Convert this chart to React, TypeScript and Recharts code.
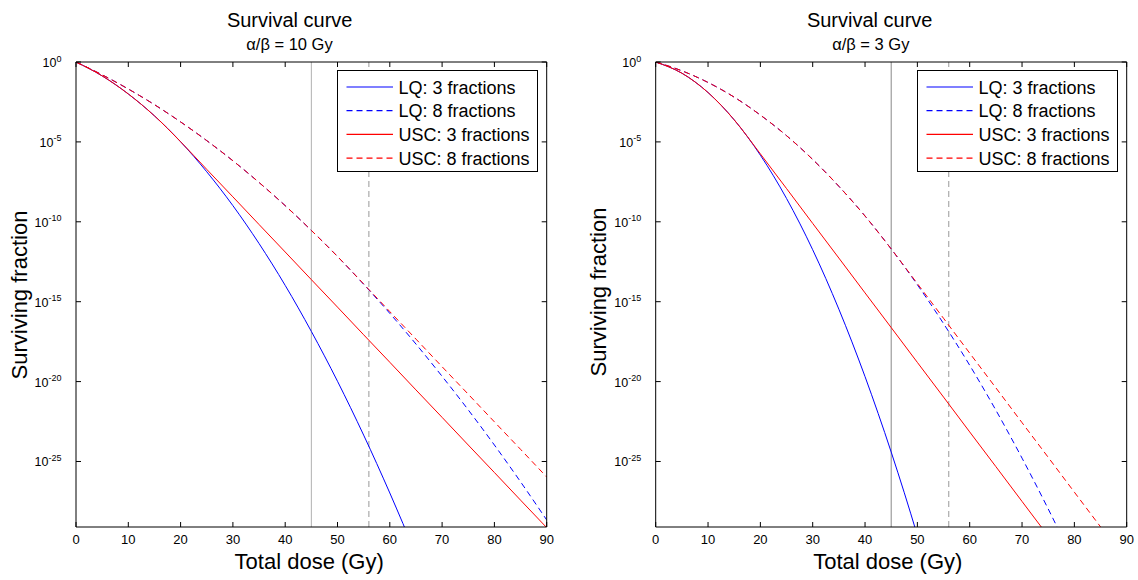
import React from 'react';
import { LineChart, Line, XAxis, YAxis, ReferenceLine, Legend } from 'recharts';

// Total dose (Gy)
const doses = [0, 5, 10, 15, 20, 25, 30, 35, 40, 45, 50, 55, 60, 65, 70, 75, 80, 85, 90];
const doseTicks = [0, 10, 20, 30, 40, 50, 60, 70, 80, 90];
// log10 of surviving fraction, tick positions
const logTicks = [0, -5, -10, -15, -20, -25];

// alpha/beta = 10 Gy (log10 surviving fraction)
const lq3Ab10 = [0, -0.87, -2.0, -3.37, -4.99, -6.87, -8.99, -11.36, -13.98, -16.86, -19.98, -23.35, -26.97, -30.84, -34.96, -39.33, -43.95, -48.82, -53.94];
const lq8Ab10 = [0, -0.8, -1.69, -2.67, -3.75, -4.92, -6.18, -7.54, -8.99, -10.54, -12.17, -13.91, -15.73, -17.65, -19.67, -21.77, -23.97, -26.27, -28.66];
const usc3Ab10 = [0, -0.87, -2.0, -3.37, -4.99, -6.72, -8.44, -10.17, -11.89, -13.62, -15.34, -17.07, -18.79, -20.52, -22.24, -23.97, -25.69, -27.42, -29.14];
const usc8Ab10 = [0, -0.8, -1.69, -2.67, -3.75, -4.92, -6.18, -7.54, -8.99, -10.54, -12.17, -13.89, -15.62, -17.34, -19.07, -20.79, -22.52, -24.24, -25.97];

// alpha/beta = 3 Gy (log10 surviving fraction)
const lq3Ab3 = [0, -0.7, -1.91, -3.62, -5.83, -8.54, -11.75, -15.47, -19.69, -24.41, -29.63, -35.36, -41.58, null, null, null, null, null, null];
const lq8Ab3 = [0, -0.55, -1.28, -2.2, -3.32, -4.61, -6.1, -7.78, -9.64, -11.7, -13.94, -16.37, -18.98, -21.79, -24.79, -27.97, -31.34, -34.9, -38.65];
const usc3Ab3 = [0, -0.7, -1.91, -3.62, -5.75, -7.92, -10.1, -12.27, -14.45, -16.62, -18.8, -20.97, -23.15, -25.32, -27.5, -29.67, -31.85, -34.02, -36.2];
const usc8Ab3 = [0, -0.55, -1.28, -2.2, -3.32, -4.61, -6.1, -7.78, -9.64, -11.7, -13.87, -16.04, -18.22, -20.39, -22.57, -24.74, -26.92, -29.09, -31.27];

const seriesNames = ['LQ: 3 fractions', 'LQ: 8 fractions', 'USC: 3 fractions', 'USC: 8 fractions'];
const seriesKeys = ['lq3', 'lq8', 'usc3', 'usc8'];
const seriesColors = ['#0000ff', '#0000ff', '#ff0000', '#ff0000'];
const seriesDashed = [false, true, false, true];

const buildRows = (a: (number | null)[], b: (number | null)[], c: (number | null)[], d: (number | null)[]) =>
  doses.map((dose, i) => ({ dose, lq3: a[i], lq8: b[i], usc3: c[i], usc8: d[i] }));

const rows10 = buildRows(lq3Ab10, lq8Ab10, usc3Ab10, usc8Ab10);
const rows3 = buildRows(lq3Ab3, lq8Ab3, usc3Ab3, usc8Ab3);

const FONT = '"Liberation Sans", Arial, Helvetica, sans-serif';

const BottomTick = (props: any) => {
  const { x, y, payload } = props;
  return (
    <g>
      <line x1={x} y1={y} x2={x} y2={y - 5} stroke="#000" />
      <text x={x} y={y + 17} textAnchor="middle" fontSize={13} fill="#000" fontFamily={FONT}>
        {payload.value}
      </text>
    </g>
  );
};
const TopTick = (props: any) => {
  const { x, y } = props;
  return <line x1={x} y1={y} x2={x} y2={y + 5} stroke="#000" />;
};
const LeftTick = (props: any) => {
  const { x, y, payload } = props;
  const exp = payload.value === 0 ? '0' : String(payload.value);
  return (
    <g>
      <line x1={x} y1={y} x2={x + 5} y2={y} stroke="#000" />
      <text x={x - 14.5} y={y + 5} textAnchor="end" fontSize={12.5} fill="#000" fontFamily={FONT}>
        10<tspan dy={-5.5} fontSize={9}>{exp}</tspan>
      </text>
    </g>
  );
};
const RightTick = (props: any) => {
  const { x, y } = props;
  return <line x1={x} y1={y} x2={x - 5} y2={y} stroke="#000" />;
};

const LegendBox = () => (
  <div style={{ width: 201, height: 102, background: '#fff', border: '1px solid #000', boxSizing: 'border-box' }}>
    <svg width={199} height={100} style={{ display: 'block' }}>
      {seriesNames.map((name, i) => {
        const cy = 16 + i * 23.7;
        return (
          <g key={name}>
            {seriesDashed[i] ? (
              <path d={`M8.5,${cy}H55`} fill="none" stroke={seriesColors[i]} strokeWidth={1.2} strokeDasharray="6 4" />
            ) : (
              <path d={`M8.5,${cy}H55`} fill="none" stroke={seriesColors[i]} strokeWidth={1.2} />
            )}
            <text x={60.5} y={cy + 6.5} fontSize={18} fill="#000" fontFamily={FONT}>{name}</text>
          </g>
        );
      })}
    </svg>
  </div>
);

type PanelProps = {
  rows: any[];
  width: number;
  marginLeft: number;
  marginRight: number;
  legendLeft: number;
  solidRefColor: string;
};

const Panel = ({ rows, width, marginLeft, marginRight, legendLeft, solidRefColor }: PanelProps) => (
  <LineChart
    width={width}
    height={580}
    data={rows}
    margin={{ top: 61, right: marginRight, bottom: 52, left: marginLeft }}
  >
    <XAxis
      dataKey="dose"
      type="number"
      domain={[0, 90]}
      ticks={doseTicks}
      interval={0}
      allowDataOverflow
      height={1}
      tickSize={0}
      tickMargin={0}
      tickLine={false}
      axisLine={{ stroke: '#000' }}
      tick={<BottomTick />}
    />
    <XAxis
      xAxisId="top"
      orientation="top"
      dataKey="dose"
      type="number"
      domain={[0, 90]}
      ticks={doseTicks}
      interval={0}
      allowDataOverflow
      height={1}
      tickSize={0}
      tickMargin={0}
      tickLine={false}
      axisLine={{ stroke: '#000' }}
      tick={<TopTick />}
    />
    <YAxis
      type="number"
      domain={[-29.1, 0]}
      ticks={logTicks}
      interval={0}
      allowDataOverflow
      width={1}
      tickSize={0}
      tickMargin={0}
      tickLine={false}
      axisLine={{ stroke: '#000' }}
      tick={<LeftTick />}
    />
    <YAxis
      yAxisId="right"
      orientation="right"
      type="number"
      domain={[-29.1, 0]}
      ticks={logTicks}
      interval={0}
      allowDataOverflow
      width={1}
      tickSize={0}
      tickMargin={0}
      tickLine={false}
      axisLine={{ stroke: '#000' }}
      tick={<RightTick />}
    />
    <ReferenceLine x={45} stroke={solidRefColor} strokeWidth={1} />
    <ReferenceLine x={56} stroke="#999" strokeWidth={1} strokeDasharray="6 4" />
    {seriesKeys.map((k, i) => (
      <Line
        key={k}
        dataKey={k}
        name={seriesNames[i]}
        type="monotone"
        stroke={seriesColors[i]}
        strokeWidth={1}
        strokeDasharray={seriesDashed[i] ? '6 4' : undefined}
        dot={false}
        activeDot={false}
        isAnimationActive={false}
      />
    ))}
    <Legend
      layout="horizontal"
      verticalAlign="middle"
      align="center"
      content={<LegendBox />}
      wrapperStyle={{ position: 'absolute', left: legendLeft, top: 70, width: 201, height: 102 }}
    />
  </LineChart>
);

export default function App() {
  return (
    <div style={{ position: 'absolute', left: 0, top: 0, width: 1138, height: 580, background: '#fff', fontFamily: FONT }}>
      <div style={{ position: 'absolute', left: 0, top: 0 }}>
        <Panel rows={rows10} width={570} marginLeft={75} marginRight={22.3} legendLeft={337.3} solidRefColor="#b0b0b0" />
      </div>
      <div style={{ position: 'absolute', left: 570, top: 0 }}>
        <Panel rows={rows3} width={568} marginLeft={84.7} marginRight={10.3} legendLeft={346.7} solidRefColor="#888888" />
      </div>
      <svg width={1138} height={580} style={{ position: 'absolute', left: 0, top: 0, pointerEvents: 'none' }} fontFamily={FONT}>
        <text x={289.7} y={26.7} textAnchor="middle" fontSize={20} fill="#000">Survival curve</text>
        <text x={289.5} y={50} textAnchor="middle" fontSize={16.5} fill="#000">α/β = 10 Gy</text>
        <text x={869.7} y={26.7} textAnchor="middle" fontSize={20} fill="#000">Survival curve</text>
        <text x={870.8} y={50} textAnchor="middle" fontSize={16.5} fill="#000">α/β = 3 Gy</text>
        <text x={309.2} y={569} textAnchor="middle" fontSize={22} fill="#000">Total dose (Gy)</text>
        <text x={887.8} y={569} textAnchor="middle" fontSize={22} fill="#000">Total dose (Gy)</text>
        <text transform="translate(26.5,295) rotate(-90)" textAnchor="middle" fontSize={22} fill="#000">Surviving fraction</text>
        <text transform="translate(605.5,292) rotate(-90)" textAnchor="middle" fontSize={22} fill="#000">Surviving fraction</text>
      </svg>
    </div>
  );
}
